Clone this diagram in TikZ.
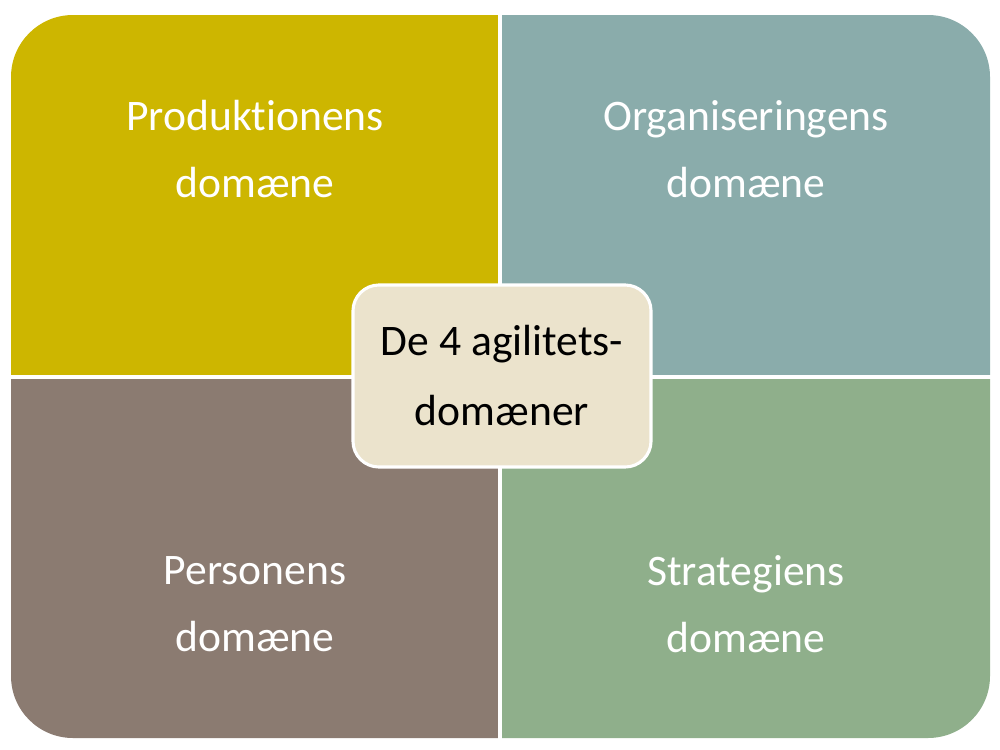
\documentclass[tikz,border=0pt]{standalone}
\usepackage{fontspec}
\setmainfont{Carlito}[Ligatures={NoCommon}]
\usepackage{tikz}
\usetikzlibrary{positioning}

\definecolor{prodcol}{RGB}{205,182,0}
\definecolor{orgcol}{RGB}{138,172,171}
\definecolor{perscol}{RGB}{139,123,113}
\definecolor{stratcol}{RGB}{143,175,139}
\definecolor{corecol}{RGB}{235,227,204}

\begin{document}
\begin{tikzpicture}[x=0.025cm,y=-0.025cm]
	\tikzstyle{quadtext}=[text=white,align=center,
	font=\fontsize{31}{47.7}\selectfont,
	inner sep=0pt
	]
	\tikzstyle{corebox}=[rounded corners=0.65cm,fill=corecol,draw=white,
	line width=2.2pt,minimum width=7.45cm,minimum height=4.55cm,
	align=center,font=\fontsize{31}{49.8}\selectfont
	];
\useasboundingbox (0,0) rectangle (1000,750);
\begin{scope}
\clip[rounded corners=1.55cm] (11,15) rectangle (990,738);
\fill[prodcol] (0,0) rectangle (498,375);
\fill[orgcol] (502,0) rectangle (1000,375);
\fill[perscol] (0,379) rectangle (498,750);
\fill[stratcol] (502,379) rectangle (1000,750);
\end{scope}

\node[quadtext](prod) at (255,149){Produktionens\\domæne};
\node[quadtext](org) at (746,149){Organiseringens\\domæne};
\node[quadtext](pers) at (255,604){Personens\\domæne};
\node[quadtext](strat) at (746,604){Strategiens\\domæne};

\node[corebox](agil) at (502,376){De 4 agilitets-\\domæner};

\end{tikzpicture}
\end{document}
